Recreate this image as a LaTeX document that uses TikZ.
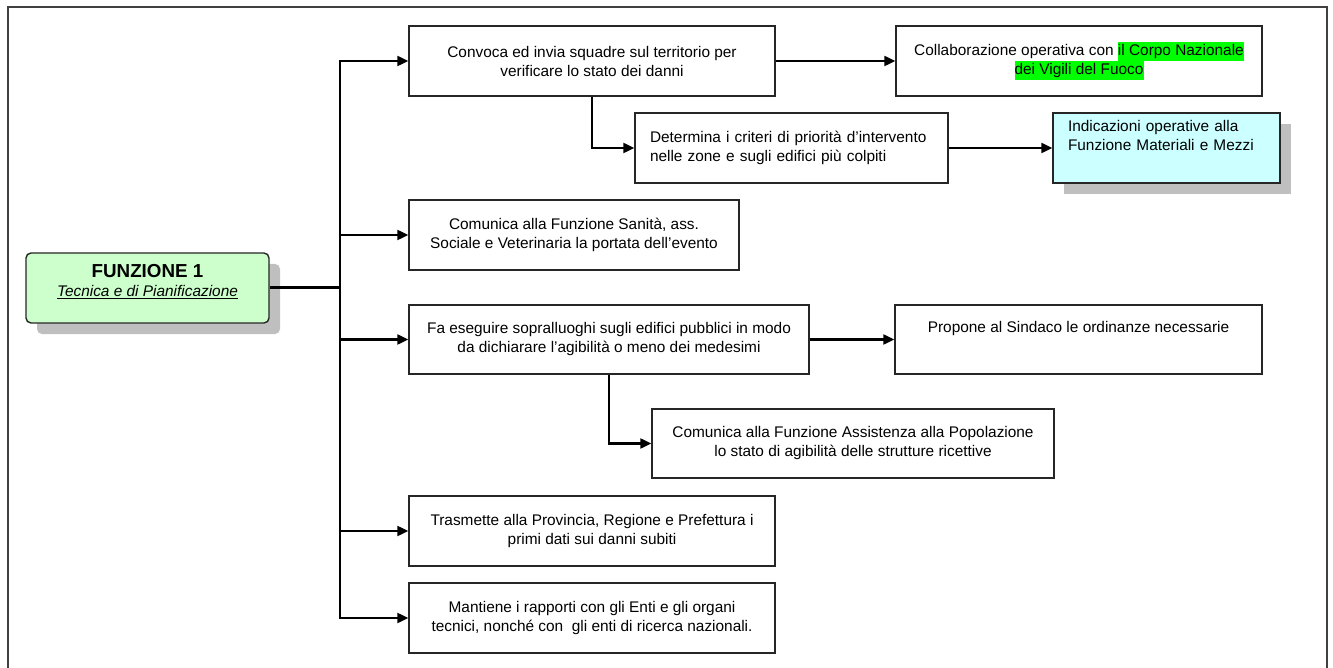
\documentclass[tikz,border=0pt]{standalone}
\usepackage{fontspec}
\setmainfont{Liberation Sans}
\usetikzlibrary{arrows.meta,shadows}

\definecolor{cornice}{HTML}{404040}
\definecolor{verdino}{HTML}{CCFFCC}
\definecolor{azzurrino}{HTML}{CCFFFF}
\definecolor{evidenzia}{HTML}{00FF00}
\newcommand{\evid}[1]{{\setlength{\fboxsep}{0pt}\colorbox{evidenzia}{\strut #1}}}

\tikzset{
  box/.style={draw=black!85, line width=1.4pt, align=center, inner sep=0pt,
    font=\fontsize{15.4}{19}\selectfont},
  ombra/.style={drop shadow={shadow xshift=11pt, shadow yshift=-11pt, fill=black!25, opacity=1}},
  freccia/.style={line width=2.2pt, -{Triangle[length=11pt,width=10pt]}},
}

\begin{document}
\begin{tikzpicture}[x=1pt,y=-1pt]
    \useasboundingbox (0,0) rectangle (1333,668);
    \draw[cornice, line width=1.6pt] (8,668) -- (8,7) -- (1327,7) -- (1327,668);

    % funzione
    \node[box, rounded corners=5pt, fill=verdino, ombra, minimum width=243pt, minimum height=70pt] (f1) at (147.5,288) {};
    \node[align=center, inner sep=0pt, font=\fontsize{15.4}{19}\selectfont] (f1t) at (147.5,282)
        {{\fontsize{18.8}{22}\selectfont\bfseries FUNZIONE 1}\\\underline{\itshape Tecnica e di Pianificazione}};
    \coordinate (tk) at (340,288);

    % attivita
    \node[box, minimum width=366pt, minimum height=70pt] (b1) at (592,61)
        {Convoca ed invia squadre sul territorio per\\verificare lo stato dei danni};
    \node[box, minimum width=366pt, minimum height=70pt] (coll) at (1079,61)
        {Collaborazione operativa con \evid{il Corpo Nazionale}\\\evid{dei Vigili del Fuoco}};
    \node[box, align=left, text width=283pt, inner xsep=15pt, minimum height=70pt] (det) at (791.5,148)
        {Determina i criteri di priorità d’intervento\\nelle zone e sugli edifici più colpiti};
    \node[box, align=left, text width=197pt, inner xsep=15pt, minimum height=70pt, fill=azzurrino, ombra] (ind) at (1166.5,148)
        {Indicazioni operative alla\\Funzione Materiali e Mezzi\\\strut};
    \node[box, minimum width=330pt, minimum height=70pt] (san) at (574,235)
        {Comunica alla Funzione Sanità, ass.\\Sociale e Veterinaria la portata dell’evento};
    \node[box, minimum width=400pt, minimum height=69pt] (fa) at (609,339.5)
        {Fa eseguire sopralluoghi sugli edifici pubblici in modo\\da dichiarare l’agibilità o meno dei medesimi};
    \node[box, minimum width=367pt, minimum height=69pt] (prop) at (1078.5,339.5)
        {Propone al Sindaco le ordinanze necessarie\\\strut};
    \node[box, minimum width=402pt, minimum height=69pt] (ass) at (853,443.5)
        {Comunica alla Funzione Assistenza alla Popolazione\\lo stato di agibilità delle strutture ricettive};
    \node[box, minimum width=366pt, minimum height=70pt] (tra) at (592,531)
        {Trasmette alla Provincia, Regione e Prefettura i\\primi dati sui danni subiti};
    \node[box, minimum width=366pt, minimum height=70pt] (man) at (592,618)
        {Mantiene i rapporti con gli Enti e gli organi\\tecnici, nonché con\ \ gli enti di ricerca nazionali.};

    % collegamenti
    \draw[line width=3pt] (f1.east) -- (tk);
    \foreach \b in {b1,san,fa,tra,man}
        \draw[freccia] (tk) |- (\b.west);
    \draw[freccia] (b1.east) -- (coll.west);
    \draw[freccia] (b1.south) |- (det.west);
    \draw[freccia] (det.east) -- (ind.west);
    \draw[freccia] (fa.east) -- (prop.west);
    \draw[freccia] (fa.south) |- (ass.west);
\end{tikzpicture}
\end{document}
